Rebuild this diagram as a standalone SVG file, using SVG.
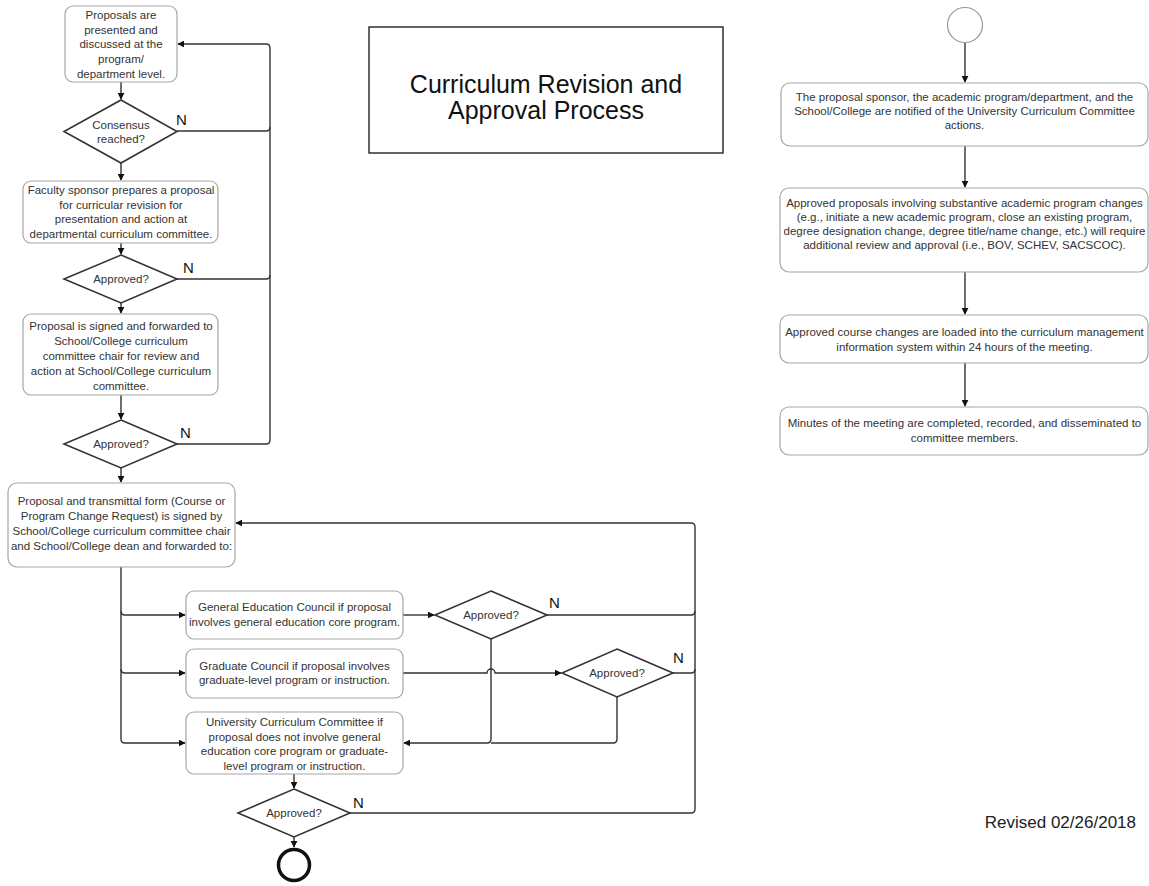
<svg xmlns="http://www.w3.org/2000/svg" width="1149" height="886" viewBox="0 0 1149 886">
<style>
  .box{fill:#fff;stroke:#a6a6a6;stroke-width:1.2}
  .dia{fill:#fff;stroke:#333;stroke-width:1.6}
  .t{font-family:"Liberation Sans",Arial,sans-serif;font-size:11.5px;fill:#333;text-anchor:middle;dominant-baseline:central}
  .n{font-family:"Liberation Sans",Arial,sans-serif;font-size:15px;fill:#111}
  .ln{fill:none;stroke:#333;stroke-width:1.4}
  .ar{fill:none;stroke:#333;stroke-width:1.4;marker-end:url(#ah)}
</style>
<defs>
  <marker id="ah" viewBox="0 0 10 10" refX="9" refY="5" markerWidth="7" markerHeight="7" markerUnits="userSpaceOnUse" orient="auto">
    <path d="M0,0 L10,5 L0,10 Z" fill="#111"/>
  </marker>
</defs>
<rect width="1149" height="886" fill="#fff"/>

<g id="title">
  <rect x="369" y="27" width="354" height="126" fill="#fff" stroke="#222" stroke-width="1.4"/>
  <text x="546" y="84" font-family="Liberation Sans, Arial, sans-serif" font-size="25" fill="#111" text-anchor="middle" dominant-baseline="central">Curriculum Revision and</text>
  <text x="546" y="110" font-family="Liberation Sans, Arial, sans-serif" font-size="25" fill="#111" text-anchor="middle" dominant-baseline="central">Approval Process</text>
</g>

<g id="connectors">
  <path class="ar" d="M121,82 V99"/>
  <path class="ar" d="M121,163 V180"/>
  <path class="ar" d="M121,243 V254"/>
  <path class="ar" d="M121,303 V313"/>
  <path class="ar" d="M121,395 V419"/>
  <path class="ar" d="M121,468 V482"/>
  <path class="ar" d="M294,774 V788"/>
  <path class="ar" d="M294,837 V847"/>
  <path class="ar" d="M177,444 H266 Q270,444 270,440 V48 Q270,44 266,44 H178"/>
  <path class="ln" d="M177,131 H266 Q270,131 270,127"/>
  <path class="ln" d="M177,279 H266 Q270,279 270,275"/>
  <path class="ar" d="M121,567 V739 Q121,743 125,743 H185"/>
  <path class="ar" d="M121,611 Q121,615 125,615 H185"/>
  <path class="ar" d="M121,669 Q121,673 125,673 H185"/>
  <path class="ar" d="M403,615 H434"/>
  <path class="ar" d="M403,673 H487 A4,4 0 0 1 495,673 H561"/>
  <path class="ar" d="M491,639 V739 Q491,743 487,743 H404"/>
  <path class="ln" d="M617,697 V739 Q617,743 613,743 H491"/>
  <path class="ar" d="M350,813 H691 Q695,813 695,809 V527 Q695,523 691,523 H236"/>
  <path class="ln" d="M547,615 H691 Q695,615 695,611"/>
  <path class="ln" d="M673,673 H691 Q695,673 695,669"/>
  <path class="ar" d="M965,43 V82"/>
  <path class="ar" d="M965,146 V187"/>
  <path class="ar" d="M965,272 V314"/>
  <path class="ar" d="M965,363 V406"/>
</g>

<g id="n1">
  <rect class="box" x="65" y="6" width="112" height="76" rx="8"/>
  <text class="t" x="121" y="15">Proposals are</text>
  <text class="t" x="121" y="29.5">presented and</text>
  <text class="t" x="121" y="44">discussed at the</text>
  <text class="t" x="121" y="59">program/</text>
  <text class="t" x="121" y="74">department level.</text>
</g>
<g id="d1">
  <polygon class="dia" points="121,100 177,131.5 121,163 64,131.5"/>
  <text class="t" x="121" y="125">Consensus</text>
  <text class="t" x="121" y="139">reached?</text>
  <text class="n" x="176" y="125">N</text>
</g>
<g id="n2">
  <rect class="box" x="23" y="181" width="195" height="62" rx="8"/>
  <text class="t" x="121" y="190">Faculty sponsor prepares a proposal</text>
  <text class="t" x="121" y="204.5">for curricular revision for</text>
  <text class="t" x="121" y="219">presentation and action at</text>
  <text class="t" x="121" y="234">departmental curriculum committee.</text>
</g>
<g id="d2">
  <polygon class="dia" points="121,255 177,279 121,303 64,279"/>
  <text class="t" x="121" y="279">Approved?</text>
  <text class="n" x="183" y="273">N</text>
</g>
<g id="n3">
  <rect class="box" x="23" y="314" width="195" height="81" rx="8"/>
  <text class="t" x="121" y="326">Proposal is signed and forwarded to</text>
  <text class="t" x="121" y="341">School/College curriculum</text>
  <text class="t" x="121" y="356">committee chair for review and</text>
  <text class="t" x="121" y="371">action at School/College curriculum</text>
  <text class="t" x="121" y="386">committee.</text>
</g>
<g id="d3">
  <polygon class="dia" points="121,420 177,444 121,468 64,444"/>
  <text class="t" x="121" y="444">Approved?</text>
  <text class="n" x="180" y="438">N</text>
</g>
<g id="n4">
  <rect class="box" x="8" y="483" width="227" height="84" rx="9"/>
  <text class="t" x="121.5" y="501">Proposal and transmittal form (Course or</text>
  <text class="t" x="121.5" y="516">Program Change Request) is signed by</text>
  <text class="t" x="121.5" y="531">School/College curriculum committee chair</text>
  <text class="t" x="121.5" y="546">and School/College dean and forwarded to:</text>
</g>
<g id="n5">
  <rect class="box" x="186" y="591" width="217" height="48" rx="8"/>
  <text class="t" x="294.5" y="607">General Education Council if proposal</text>
  <text class="t" x="294.5" y="622">involves general education core program.</text>
</g>
<g id="n6">
  <rect class="box" x="186" y="649" width="217" height="49" rx="8"/>
  <text class="t" x="294.5" y="666">Graduate Council if proposal involves</text>
  <text class="t" x="294.5" y="680">graduate-level program or instruction.</text>
</g>
<g id="n7">
  <rect class="box" x="186" y="712" width="217" height="62" rx="8"/>
  <text class="t" x="294.5" y="722">University Curriculum Committee if</text>
  <text class="t" x="294.5" y="736.5">proposal does not involve general</text>
  <text class="t" x="294.5" y="751">education core program or graduate-</text>
  <text class="t" x="294.5" y="766">level program or instruction.</text>
</g>
<g id="d4">
  <polygon class="dia" points="491,591 547,615 491,639 435,615"/>
  <text class="t" x="491" y="615">Approved?</text>
  <text class="n" x="549" y="608">N</text>
</g>
<g id="d5">
  <polygon class="dia" points="617,649 673,673 617,697 562,673"/>
  <text class="t" x="617" y="673">Approved?</text>
  <text class="n" x="673" y="663">N</text>
</g>
<g id="d6">
  <polygon class="dia" points="294,789 350,813 294,837 238,813"/>
  <text class="t" x="294" y="813">Approved?</text>
  <text class="n" x="353" y="808">N</text>
</g>
<g id="end">
  <circle cx="294" cy="865" r="15.5" fill="#fff" stroke="#111" stroke-width="3.5"/>
</g>

<g id="start">
  <circle cx="965" cy="25" r="17.5" fill="#fff" stroke="#999" stroke-width="1.2"/>
</g>
<g id="r1">
  <rect class="box" x="781" y="83" width="367" height="63" rx="9"/>
  <text class="t" x="964.5" y="97">The proposal sponsor, the academic program/department, and the</text>
  <text class="t" x="964.5" y="111">School/College are notified of the University Curriculum Committee</text>
  <text class="t" x="964.5" y="125">actions.</text>
</g>
<g id="r2">
  <rect class="box" x="780" y="188" width="368" height="84" rx="9"/>
  <text class="t" x="964.5" y="203">Approved proposals involving substantive academic program changes</text>
  <text class="t" x="964.5" y="217">(e.g., initiate a new academic program, close an existing program,</text>
  <text class="t" x="964.5" y="231">degree designation change, degree title/name change, etc.) will require</text>
  <text class="t" x="964.5" y="245">additional review and approval (i.e., BOV, SCHEV, SACSCOC).</text>
</g>
<g id="r3">
  <rect class="box" x="780" y="315" width="368" height="48" rx="9"/>
  <text class="t" x="964.5" y="332">Approved course changes are loaded into the curriculum management</text>
  <text class="t" x="964.5" y="347">information system within 24 hours of the meeting.</text>
</g>
<g id="r4">
  <rect class="box" x="780" y="407" width="368" height="48" rx="9"/>
  <text class="t" x="964.5" y="423">Minutes of the meeting are completed, recorded, and disseminated to</text>
  <text class="t" x="964.5" y="438">committee members.</text>
</g>

<text x="1136" y="822" font-family="Liberation Sans, Arial, sans-serif" font-size="17" fill="#222" text-anchor="end" dominant-baseline="central">Revised 02/26/2018</text>
</svg>
